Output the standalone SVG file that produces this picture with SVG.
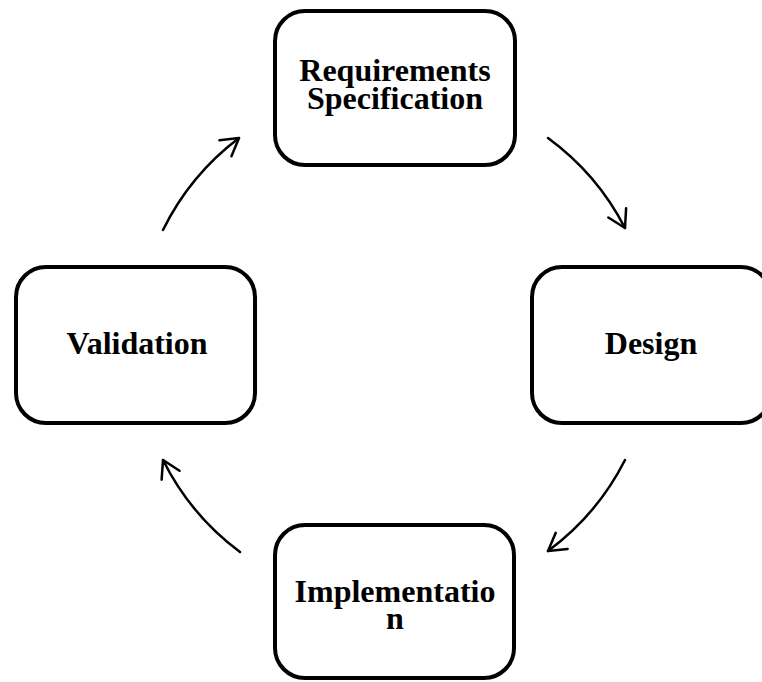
<svg xmlns="http://www.w3.org/2000/svg" width="762" height="682" viewBox="0 0 762 682">
  <style>
    .box { fill: #ffffff; stroke: #000000; stroke-width: 4; }
    .label { font-family: "Liberation Serif", "Times New Roman", serif; font-weight: bold; font-size: 32px; fill: #000000; text-anchor: middle; }
    .flow { fill: none; stroke: #000000; stroke-width: 2.5; stroke-linecap: round; }
  </style>
  <defs>
    <marker id="openHead" markerUnits="userSpaceOnUse" markerWidth="40" markerHeight="40" viewBox="-25 -20 30 40" refX="0" refY="0" orient="auto" overflow="visible">
      <path d="M -17,-10 L 0,0 L -17,10" fill="none" stroke="#000000" stroke-width="2.5" stroke-linecap="round" stroke-linejoin="round"/>
    </marker>
  </defs>
  <rect width="762" height="682" fill="#ffffff"/>

  <g id="requirements">
    <rect class="box" x="275" y="11" width="240" height="154" rx="30" ry="30"/>
    <text class="label" x="395" y="81">Requirements</text>
    <text class="label" x="395" y="109">Specification</text>
  </g>

  <g id="design">
    <rect class="box" x="532" y="267" width="239" height="156" rx="30" ry="30"/>
    <text class="label" x="651" y="354">Design</text>
  </g>

  <g id="implementation">
    <rect class="box" x="275" y="525" width="239" height="153" rx="30" ry="30"/>
    <text class="label" x="395" y="602">Implementatio</text>
    <text class="label" x="395" y="629">n</text>
  </g>

  <g id="validation">
    <rect class="box" x="16" y="267" width="239" height="156" rx="30" ry="30"/>
    <text class="label" x="137" y="354">Validation</text>
  </g>

  <g id="connectors">
    <path class="flow" d="M 548,138 A 258 258 0 0 1 625,228" marker-end="url(#openHead)"/>
    <path class="flow" d="M 625,460 A 258 258 0 0 1 548,551" marker-end="url(#openHead)"/>
    <path class="flow" d="M 240,552 A 258 258 0 0 1 163,460" marker-end="url(#openHead)"/>
    <path class="flow" d="M 163,230 A 258 258 0 0 1 239,138" marker-end="url(#openHead)"/>
  </g>
</svg>
